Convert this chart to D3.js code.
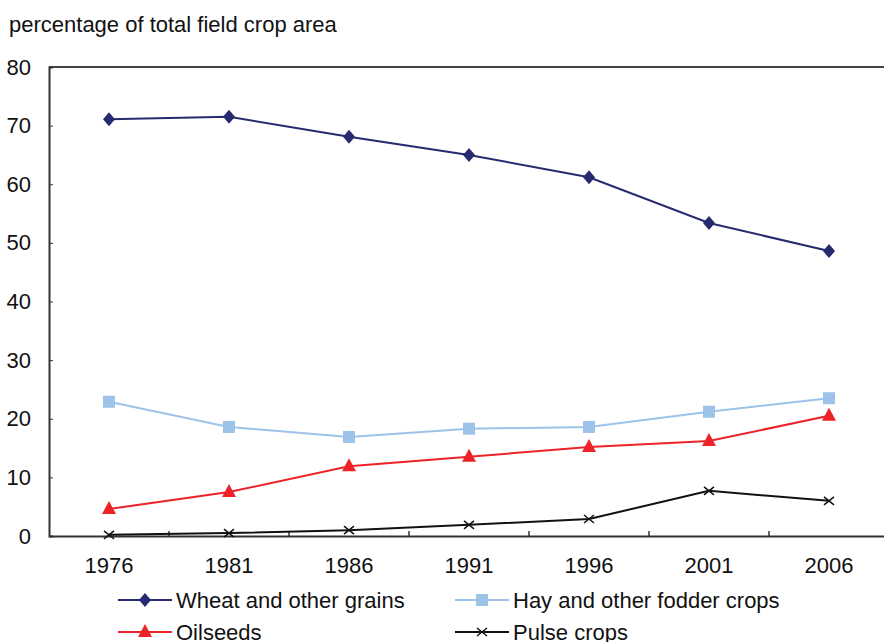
<!DOCTYPE html>
<html>
<head>
<meta charset="utf-8">
<script src="https://cdn.jsdelivr.net/npm/d3@7"></script>
<style>
  body { margin: 0; background: #fff; }
  svg { display: block; font-family: "Liberation Sans", Arial, sans-serif; }
</style>
</head>
<body>
<svg id="chart" width="884" height="642"></svg>
<script>
let years = ['1976', '1981', '1986', '1991', '1996', '2001', '2006'];
let yTicks = [0, 10, 20, 30, 40, 50, 60, 70, 80];

let wheat = [71.1, 71.5, 68.1, 65.0, 61.2, 53.4, 48.6];
let hay = [22.9, 18.6, 16.9, 18.3, 18.6, 21.2, 23.5];
let oilseeds = [4.6, 7.5, 11.9, 13.5, 15.2, 16.2, 20.5];
let pulse = [0.2, 0.5, 1.0, 1.9, 2.9, 7.7, 6.0];

let seriesNames = ['Wheat and other grains', 'Hay and other fodder crops', 'Oilseeds', 'Pulse crops'];

let svg = d3.select('#chart');

let plotLeft = 49, plotTop = 67, plotBottom = 536, plotRight = 889;
let fontSize = 22;

let x = d3.scaleBand()
  .domain(years)
  .range([plotLeft, plotRight]);

let y = d3.scaleLinear()
  .domain([0, 80])
  .range([plotBottom, plotTop]);

// series styles
let series = [
  { name: seriesNames[0], values: wheat, color: '#262a6e', marker: 'diamond' },
  { name: seriesNames[1], values: hay, color: '#9dc3e8', marker: 'square' },
  { name: seriesNames[2], values: oilseeds, color: '#ee2229', marker: 'triangle' },
  { name: seriesNames[3], values: pulse, color: '#111111', marker: 'cross' }
];

// title
svg.append('text')
  .attr('x', 9)
  .attr('y', 32)
  .attr('font-size', fontSize)
  .attr('fill', '#111')
  .text('percentage of total field crop area');

// top border
svg.append('line')
  .attr('x1', plotLeft).attr('x2', plotRight)
  .attr('y1', plotTop).attr('y2', plotTop)
  .attr('stroke', '#444').attr('stroke-width', 2);

// y axis, ticks on the inside
let yAxis = svg.append('g')
  .attr('transform', 'translate(' + plotLeft + ',0)')
  .call(d3.axisRight(y).tickValues(yTicks).tickSize(4).tickFormat(d3.format('d')));
yAxis.select('.domain').attr('stroke', '#333').attr('stroke-width', 2);
yAxis.selectAll('.tick line').attr('stroke', '#333');
yAxis.selectAll('.tick text')
  .attr('x', -18)
  .attr('text-anchor', 'end')
  .attr('font-size', fontSize)
  .attr('fill', '#111');

// x axis, category separators pointing up
let xAxis = svg.append('g')
  .attr('transform', 'translate(0,' + plotBottom + ')')
  .call(d3.axisBottom(x).tickSize(0).tickPadding(21));
xAxis.select('.domain').attr('stroke', '#333').attr('stroke-width', 2);
xAxis.selectAll('.tick text').attr('font-size', fontSize).attr('fill', '#111');

svg.append('g').selectAll('line')
  .data(years.slice(1))
  .join('line')
    .attr('x1', d => x(d)).attr('x2', d => x(d))
    .attr('y1', plotBottom).attr('y2', plotBottom - 5)
    .attr('stroke', '#333').attr('stroke-width', 1.5);

function drawMarker(g, type, color) {
  if (type === 'diamond') {
    g.append('path').attr('d', 'M0,-7L6,0L0,7L-6,0Z').attr('fill', color);
  } else if (type === 'square') {
    g.append('rect').attr('x', -6).attr('y', -6).attr('width', 12).attr('height', 12).attr('fill', color);
  } else if (type === 'triangle') {
    g.append('path').attr('d', 'M0,-8L7,5L-7,5Z').attr('fill', color);
  } else {
    g.append('path').attr('d', 'M-5,-4L5,4M-5,4L5,-4')
      .attr('stroke', color).attr('stroke-width', 1.5).attr('fill', 'none');
  }
}

let line = d3.line()
  .x((d, i) => x(years[i]) + x.bandwidth() / 2)
  .y(d => y(d));

series.forEach(function(s) {
  let g = svg.append('g');
  g.append('path')
    .attr('d', line(s.values))
    .attr('fill', 'none')
    .attr('stroke', s.color)
    .attr('stroke-width', 2);
  s.values.forEach(function(v, i) {
    let m = g.append('g')
      .attr('transform', 'translate(' + (x(years[i]) + x.bandwidth() / 2) + ',' + y(v) + ')');
    drawMarker(m, s.marker, s.color);
  });
});

// legend
let legendPos = [[118, 600], [455, 600], [118, 632], [455, 632]];
series.forEach(function(s, i) {
  let p = legendPos[i];
  let g = svg.append('g').attr('transform', 'translate(' + p[0] + ',' + p[1] + ')');
  g.append('line').attr('x1', 0).attr('x2', 54).attr('y1', 0).attr('y2', 0)
    .attr('stroke', s.color).attr('stroke-width', 2);
  let m = g.append('g').attr('transform', 'translate(27,0)');
  drawMarker(m, s.marker, s.color);
  g.append('text')
    .attr('x', 58)
    .attr('y', 8)
    .attr('font-size', fontSize)
    .attr('fill', '#111')
    .text(s.name);
});
</script>
</body>
</html>
